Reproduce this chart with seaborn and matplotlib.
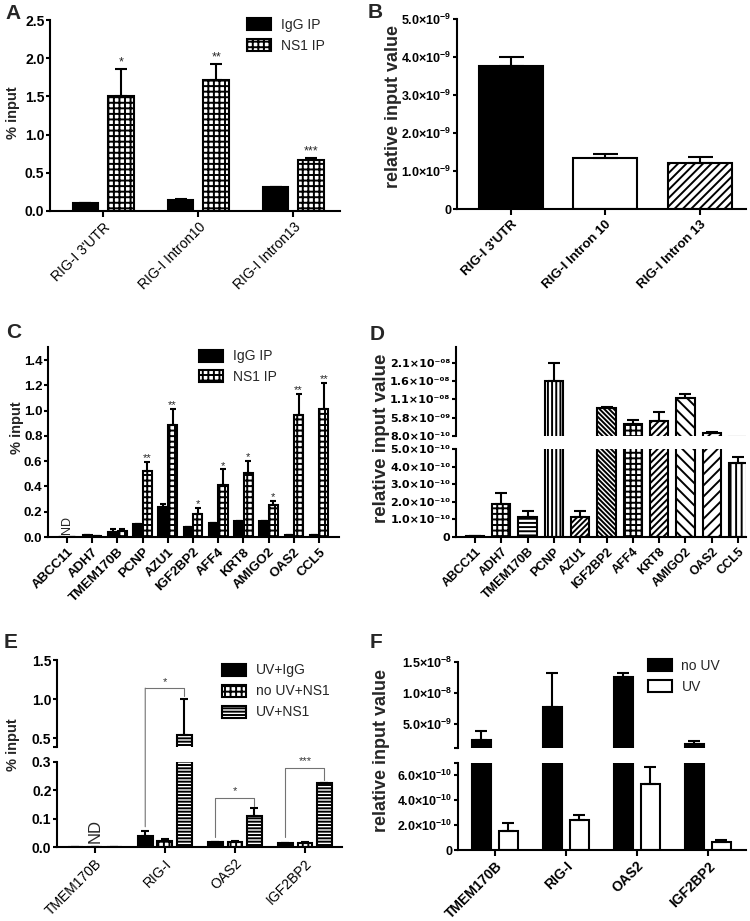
import numpy as np
import pandas as pd
import seaborn as sns
import matplotlib.pyplot as plt
from matplotlib.patches import Patch, ConnectionPatch

# A: RIG-I RIP, % input
a_targets = ["RIG-I 3'UTR", "RIG-I Intron10", "RIG-I Intron13"]
a_groups = ['IgG IP', 'NS1 IP']
a_igg = [0.105, 0.14, 0.315]
a_igg_err = [0.0, 0.02, 0.0]
a_ns1 = [1.50, 1.71, 0.67]
a_ns1_err = [0.36, 0.22, 0.03]
a_stars = ['*', '**', '***']

# B: relative input value
b_targets = ["RIG-I 3'UTR", "RIG-I Intron 10", "RIG-I Intron 13"]
b_vals = [3.75e-9, 1.35e-9, 1.22e-9]
b_err = [0.26e-9, 0.10e-9, 0.16e-9]

# C: % input, 11 genes
c_genes = ['ABCC11', 'ADH7', 'TMEM170B', 'PCNP', 'AZU1', 'IGF2BP2',
           'AFF4', 'KRT8', 'AMIGO2', 'OAS2', 'CCL5']
c_igg = [0, 0.012, 0.04, 0.10, 0.24, 0.08, 0.11, 0.13, 0.13, 0.015, 0.015]
c_igg_err = [0, 0, 0.022, 0, 0.022, 0, 0, 0, 0, 0, 0]
c_ns1 = [0, 0.005, 0.045, 0.52, 0.885, 0.18, 0.415, 0.51, 0.255, 0.965, 1.01]
c_ns1_err = [0, 0, 0.022, 0.075, 0.13, 0.05, 0.12, 0.09, 0.03, 0.17, 0.21]
c_stars = ['', '', '', '**', '**', '*', '*', '*', '*', '**', '**']

# D: relative input value, same genes
d_vals = [6e-12, 1.87e-10, 1.11e-10, 1.59e-8, 1.14e-10, 8.53e-9,
          3.95e-9, 4.86e-9, 1.13e-8, 1.46e-9, 4.23e-10]
d_err = [0, 0.61e-10, 0.36e-10, 0.5e-8, 0.35e-10, 0.25e-9,
         1.2e-9, 2.57e-9, 0.94e-9, 0.36e-9, 0.31e-10]

# E: UV crosslinking RIP
e_genes = ['TMEM170B', 'RIG-I', 'OAS2', 'IGF2BP2']
e_groups = ['UV+IgG', 'no UV+NS1', 'UV+NS1']
e_uv_igg = [0, 0.038, 0.02, 0.014]
e_uv_igg_err = [0, 0.02, 0, 0]
e_nouv_ns1 = [0, 0.022, 0.018, 0.015]
e_nouv_ns1_err = [0, 0.006, 0.005, 0.004]
e_uv_ns1 = [0, 0.54, 0.11, 0.227]
e_uv_ns1_err = [0, 0.46, 0.027, 0]
# bracket: gene, start (left), top, end (right), label
e_brackets = [('RIG-I', 0.072, 1.14, 1.04, '*'),
              ('OAS2', 0.037, 0.174, 0.145, '*'),
              ('IGF2BP2', 0.037, 0.279, 0.236, '***')]

# F: relative input value, UV vs no UV
f_genes = ['TMEM170B', 'RIG-I', 'OAS2', 'IGF2BP2']
f_groups = ['no UV', 'UV']
f_nouv = [2.34e-9, 7.72e-9, 12.47e-9, 1.69e-9]
f_nouv_err = [1.46e-9, 5.4e-9, 0.75e-9, 0.54e-9]
f_uv = [1.52e-10, 2.43e-10, 5.27e-10, 0.68e-10]
f_uv_err = [0.68e-10, 0.41e-10, 1.35e-10, 0.13e-10]

sns.set_style('ticks')
plt.rcParams['font.family'] = ['Liberation Sans', 'DejaVu Sans']
plt.rcParams['mathtext.fontset'] = 'custom'
plt.rcParams['mathtext.rm'] = 'Liberation Sans'
plt.rcParams['mathtext.bf'] = 'Liberation Sans:bold'
plt.rcParams['mathtext.it'] = 'Liberation Sans:italic'
plt.rcParams['hatch.linewidth'] = 1.4
plt.rcParams['axes.linewidth'] = 1.5
plt.rcParams['axes.edgecolor'] = 'black'

W, H = 750, 921
fig = plt.figure(figsize=(7.5, 9.21), dpi=100)
CHECK = '+++'


def box(x0, y0, x1, y1):
    return fig.add_axes([x0 / W, 1 - y1 / H, (x1 - x0) / W, (y1 - y0) / H])


def yaxis(ax, ticks, labels, size=10, family=None):
    ax.set_yticks(ticks)
    ax.set_yticklabels(labels, fontsize=size, fontweight='bold', family=family)
    ax.set_ylabel('')
    sns.despine(ax=ax)
    ax.tick_params(axis='y', width=1.5, length=2.8, pad=1.2, colors='black')


def xaxis(ax, lim, names, size=10, weight='bold'):
    ax.set_xlim(*lim)
    ax.set_xlabel('')
    if names is None:
        ax.spines['bottom'].set_visible(False)
        ax.tick_params(axis='x', bottom=False, labelbottom=False)
        return
    ax.set_xticks(range(len(names)))
    ax.set_xticklabels(names, rotation=45, ha='right', rotation_mode='anchor',
                       fontsize=size, fontweight=weight)
    ax.tick_params(axis='x', width=1.5, length=4.5, pad=2, colors='black')


def err_bars(ax, xs, ys, errs, capsize, ylim):
    # skip bars whose error bar lies outside this (broken) segment
    ys = np.array(ys, dtype=float)
    errs = np.array(errs, dtype=float)
    ys = np.where((ys + errs < ylim[0]) | (ys > ylim[1]), np.nan, ys)
    ax.errorbar(xs, ys, yerr=[np.zeros(len(errs)), errs], fmt='none', ecolor='black',
                elinewidth=1.5, capsize=capsize, capthick=1.5)


def grouped(ax, genes, groups, values, errs, colors, hatches, width, gap, capsize, ylim):
    rows = [(gene, g, v) for g, vals in zip(groups, values) for gene, v in zip(genes, vals)]
    df = pd.DataFrame(rows, columns=['gene', 'group', 'value'])
    sns.barplot(data=df, x='gene', y='value', hue='group', order=genes, hue_order=groups,
                palette=dict(zip(groups, colors)), errorbar=None, width=width, gap=gap,
                edgecolor='black', linewidth=1.5, saturation=1, legend=False, ax=ax)
    ax.set_ylim(*ylim)
    tops = []
    for cont, hatch, err in zip(ax.containers, hatches, errs):
        xs = [p.get_x() + p.get_width() / 2 for p in cont]
        ys = [p.get_height() for p in cont]
        for p in cont:
            p.set_hatch(hatch)
        err_bars(ax, xs, ys, err, capsize, ylim)
        tops.append([(x, y + e) for x, y, e in zip(xs, ys, err)])
    return tops


def single(ax, genes, vals, errs, hatches, colors, width, capsize, ylim):
    df = pd.DataFrame({'gene': genes, 'value': vals})
    sns.barplot(data=df, x='gene', y='value', hue='gene', order=genes, hue_order=genes,
                palette=dict(zip(genes, colors)), errorbar=None, width=width,
                edgecolor='black', linewidth=1.5, saturation=1, legend=False, ax=ax)
    ax.set_ylim(*ylim)
    xs, ys = [], []
    for cont, hatch in zip(ax.containers, hatches):
        p = cont[0]
        p.set_hatch(hatch)
        xs.append(p.get_x() + p.get_width() / 2)
        ys.append(p.get_height())
    err_bars(ax, xs, ys, errs, capsize, ylim)


def legend(ax, labels, colors, hatches, anchor):
    handles = [Patch(facecolor=c, edgecolor='black', hatch=h, linewidth=1.5)
               for c, h in zip(colors, hatches)]
    ax.legend(handles, labels, loc='upper left', bbox_to_anchor=anchor, frameon=False,
              fontsize=10, handlelength=1.7, handleheight=0.95, labelspacing=0.5,
              handletextpad=0.7, borderaxespad=0, borderpad=0)


def sci(v, exp):
    return r'$\mathbf{%.1f{\times}10^{%s}}$' % (v, exp)


def usci(v, exp):
    sup = str.maketrans('-0123456789', '⁻⁰¹²³⁴⁵⁶⁷⁸⁹')
    return f'{v:.1f}×10' + exp.translate(sup)


def letter(s, x, y):
    fig.text(x / W, 1 - y / H, s, fontsize=15, fontweight='bold', va='baseline', ha='left')


def ylab(s, x, y, size):
    fig.text(x / W, 1 - y / H, s, rotation=90, va='center', ha='center',
             fontsize=size, fontweight='bold')


# ---- A
ax = box(50, 20, 340, 211)
tops = grouped(ax, a_targets, a_groups, [a_igg, a_ns1], [a_igg_err, a_ns1_err],
               ['black', 'white'], ['', CHECK], 0.75, 0.28, 4.5, (0, 2.5))
for (x, t), s in zip(tops[1], a_stars):
    ax.annotate(s, (x, t), xytext=(0, 0), textcoords='offset points', ha='center',
                va='bottom', fontsize=9)
a_ticks = np.arange(0, 2.51, 0.5)
yaxis(ax, a_ticks, [f'{v:.1f}' for v in a_ticks])
xaxis(ax, (-0.56, 2.49), a_targets, size=10, weight='normal')
legend(ax, a_groups, ['black', 'white'], ['', CHECK], (0.68, 1.01))
letter('A', 5, 19)
ylab('% input', 13, 113, 10.5)

# ---- B
ax = box(457, 19, 746, 209)
single(ax, b_targets, b_vals, b_err, ['', '', '////'], ['black', 'white', 'white'],
       0.68, 9, (0, 5e-9))
yaxis(ax, np.arange(0, 5.01e-9, 1e-9), ['0'] + [sci(v, '-9') for v in [1, 2, 3, 4, 5]],
      size=9)
xaxis(ax, (-0.57, 2.49), b_targets, size=9.5)
letter('B', 368, 18)
ylab('relative input value', 394, 106, 13)

# ---- C
ax = box(48, 347.4, 339, 537)
tops = grouped(ax, c_genes, a_groups, [c_igg, c_ns1], [c_igg_err, c_ns1_err],
               ['black', 'white'], ['', CHECK], 0.76, 0.05, 2, (0, 1.5))
for (x, t), s in zip(tops[1], c_stars):
    if s:
        ax.annotate(s, (x, t), xytext=(0, -1), textcoords='offset points', ha='center',
                    va='bottom', fontsize=8)
ax.text(0, 0.02, 'ND', rotation=90, ha='center', va='bottom', fontsize=9)
c_ticks = np.arange(0, 1.41, 0.2)
yaxis(ax, c_ticks, [f'{v:.1f}' for v in c_ticks], size=9.5)
xaxis(ax, (-0.75, 10.79), c_genes, size=9.5)
legend(ax, a_groups, ['black', 'white'], ['', CHECK], (0.52, 0.99))
letter('C', 6, 338)
ylab('% input', 17, 428, 10.5)

# ---- D (broken axis)
d_hatch = ['', '+++', '----', '||||', '//////', '\\\\\\\\\\\\\\', '+++', '/////',
           '\\\\\\', '///', '|||']
d_cols = ['white'] * len(c_genes)
d_hi = box(456, 347.3, 746, 435.7)
d_lo = box(456, 449.3, 746, 536.7)
single(d_hi, c_genes, d_vals, d_err, d_hatch, d_cols, 0.70, 4, (0.8e-9, 2.52e-8))
single(d_lo, c_genes, d_vals, d_err, d_hatch, d_cols, 0.70, 4, (0, 5e-10))
dj = ['DejaVu Sans']
yaxis(d_hi, [0.8e-9, 5.8e-9, 10.8e-9, 15.8e-9, 20.8e-9],
      [usci(8.0, '-10'), usci(5.8, '-09'), usci(1.1, '-08'), usci(1.6, '-08'),
       usci(2.1, '-08')], size=8, family=dj)
yaxis(d_lo, np.arange(0, 5.01e-10, 1e-10),
      ['0'] + [usci(v, '-10') for v in [1, 2, 3, 4, 5]], size=8, family=dj)
xaxis(d_hi, (-0.72, 10.3), None)
xaxis(d_lo, (-0.72, 10.3), c_genes, size=9)
letter('D', 370, 340)
ylab('relative input value', 381, 438, 13.5)

# ---- E (broken axis)
e_cols = ['black', 'white', 'white']
e_hatch = ['', CHECK, '-----']
e_hi = box(57, 660, 342, 746.7)
e_lo = box(57, 761.7, 342, 847.3)
for a, lim in ((e_hi, (0.39, 1.5)), (e_lo, (0, 0.3))):
    grouped(a, e_genes, e_groups, [e_uv_igg, e_nouv_ns1, e_uv_ns1],
            [e_uv_igg_err, e_nouv_ns1_err, e_uv_ns1_err], e_cols, e_hatch, 0.84, 0.25, 3, lim)
yaxis(e_hi, [0.39, 0.5, 1.0, 1.5], ['', '0.5', '1.0', '1.5'])
yaxis(e_lo, [0, 0.1, 0.2, 0.3], ['0.0', '0.1', '0.2', '0.3'])
xaxis(e_hi, (-0.54, 3.53), None)
xaxis(e_lo, (-0.54, 3.53), e_genes, size=10, weight='normal')
e_lo.text(0, 0.015, 'ND', rotation=90, ha='center', va='bottom', fontsize=12)
for gene, y0, ytop, y1, s in e_brackets:
    i = e_genes.index(gene)
    x0 = e_lo.containers[0][i].get_x() + e_lo.containers[0][i].get_width() / 2
    x1 = e_lo.containers[2][i].get_x() + e_lo.containers[2][i].get_width() / 2
    kw = dict(color='0.45', lw=0.8)
    if ytop > 0.3:
        fig.add_artist(ConnectionPatch((x0, y0), (x0, ytop), e_lo.transData, e_hi.transData,
                                       **kw))
        e_hi.plot([x0, x1, x1], [ytop, ytop, y1], **kw)
        tax = e_hi
    else:
        e_lo.plot([x0, x0, x1, x1], [y0, ytop, ytop, y1], **kw)
        tax = e_lo
    tax.annotate(s, ((x0 + x1) / 2, ytop), xytext=(0, 1), textcoords='offset points',
                 ha='center', va='bottom', fontsize=8, color='0.2')
legend(e_hi, e_groups, e_cols, e_hatch, (0.58, 0.96))
letter('E', 4, 648)
ylab('% input', 13, 745, 10.5)

# ---- F (broken axis)
f_cols = ['black', 'white']
f_hi = box(458, 661.7, 746, 748.3)
f_lo = box(458, 762.7, 746, 850)
for a, lim in ((f_hi, (1e-9, 1.5e-8)), (f_lo, (0, 7e-10))):
    grouped(a, f_genes, f_groups, [f_nouv, f_uv], [f_nouv_err, f_uv_err],
            f_cols, ['', ''], 0.76, 0.29, 4.5, lim)
yaxis(f_hi, [1e-9, 5e-9, 1e-8, 1.5e-8],
      ['', sci(5.0, '-9'), sci(1.0, '-8'), sci(1.5, '-8')], size=9)
yaxis(f_lo, [0, 2e-10, 4e-10, 6e-10, 7e-10],
      ['0', sci(2.0, '-10'), sci(4.0, '-10'), sci(6.0, '-10'), ''], size=9)
xaxis(f_hi, (-0.52, 3.54), None)
xaxis(f_lo, (-0.52, 3.54), f_genes, size=10)
legend(f_hi, f_groups, f_cols, ['', ''], (0.66, 1.03))
letter('F', 370, 648)
ylab('relative input value', 381, 750, 13)

fig.savefig('out.png', dpi=100, facecolor='white')
